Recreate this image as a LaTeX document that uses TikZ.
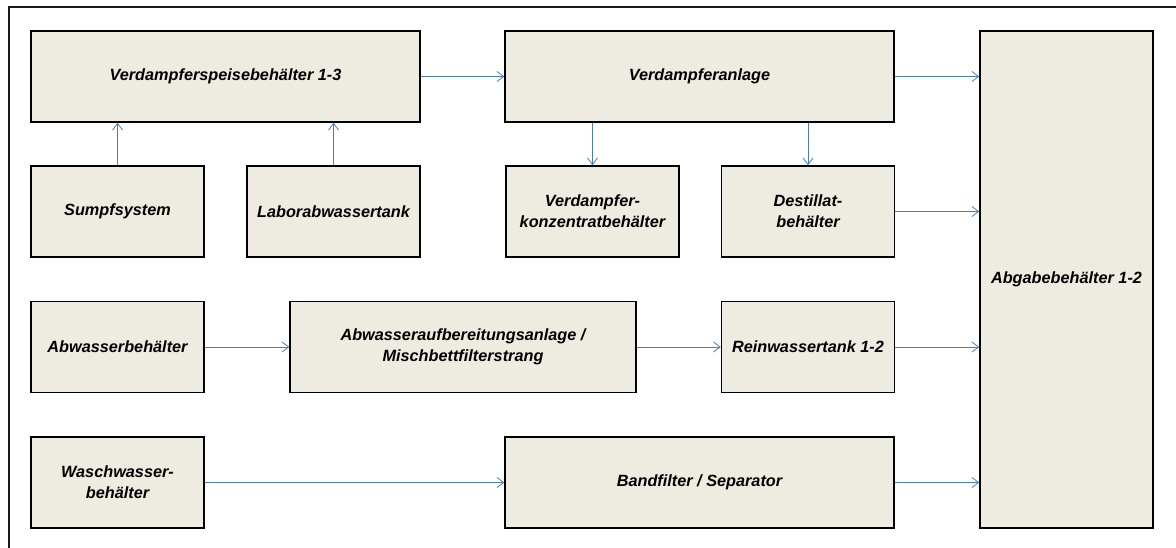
\documentclass[tikz,border=0pt]{standalone}
\usepackage{fontspec}
\setmainfont{Liberation Sans}
\usepackage{tikz}
\usetikzlibrary{arrows.meta}
\definecolor{boxFill}{HTML}{EEECE1}
\definecolor{flowBlue}{HTML}{4A7EBB}

\tikzset{
    plant/.style={draw, line width=1.1pt, fill=boxFill, inner sep=0pt,
        align=center, font=\fontsize{12.2}{16}\selectfont\bfseries\itshape},
    flow/.style={flowBlue, line width=0.6pt, -{Straight Barb[length=5pt,width=7.5pt]}}
}

\begin{document}
\begin{tikzpicture}[x=0.75pt, y=-0.75pt]
    \useasboundingbox (0,0) rectangle (1176,548);
    % frame
    \draw[black!90, line width=1.5pt] (8.5,548) -- (8.5,7.5) -- (1176,7.5);

    % first row
    \node[plant, minimum width=291.75pt, minimum height=68.25pt] (speise) at (225.5,76.5) {Verdampferspeisebehälter 1-3};
    \node[plant, minimum width=291.75pt, minimum height=68.25pt] (anlage) at (699.5,76.5) {Verdampferanlage};
    \node[plant, minimum width=129.75pt, minimum height=372.75pt] (abgabe) at (1066.5,279.5) {Abgabebehälter 1-2};

    % second row
    \node[plant, minimum width=129.75pt, minimum height=68.25pt] (sumpf) at (117.5,211.5) {Sumpfsystem};
    \node[plant, minimum width=129.75pt, minimum height=68.25pt] (labor) at (333.5,211.5) {Laborabwassertank};
    \node[plant, minimum width=129.75pt, minimum height=68.25pt] (konzentrat) at (592.5,211.5) {Verdampfer-\\konzentratbehälter};
    \node[plant, minimum width=129.75pt, minimum height=68.25pt] (destillat) at (808,211.5) {Destillat-\\behälter};

    % third row
    \node[plant, minimum width=129.75pt, minimum height=68.25pt] (abwasser) at (117.5,347) {Abwasserbehälter};
    \node[plant, minimum width=259.5pt, minimum height=68.25pt] (aufbereitung) at (463,347) {Abwasseraufbereitungsanlage /\\Mischbettfilterstrang};
    \node[plant, minimum width=129.75pt, minimum height=68.25pt] (rein) at (808,347) {Reinwassertank 1-2};

    % fourth row
    \node[plant, minimum width=129.75pt, minimum height=68.25pt] (wasch) at (117.5,482.5) {Waschwasser-\\behälter};
    \node[plant, minimum width=291.75pt, minimum height=68.25pt] (band) at (699.5,482.5) {Bandfilter / Separator};

    % connections
    \draw[flow] (sumpf.north) -- (sumpf.north |- speise.south);
    \draw[flow] (labor.north) -- (labor.north |- speise.south);
    \draw[flow] (speise.east) -- (anlage.west);
    \draw[flow] (anlage.south -| konzentrat.north) -- (konzentrat.north);
    \draw[flow] (anlage.south -| destillat.north) -- (destillat.north);
    \draw[flow] (abwasser.east) -- (aufbereitung.west);
    \draw[flow] (aufbereitung.east) -- (rein.west);
    \draw[flow] (wasch.east) -- (band.west);
    \foreach \n in {anlage,destillat,rein,band}
        \draw[flow] (\n.east) -- (\n.east -| abgabe.west);
\end{tikzpicture}
\end{document}
